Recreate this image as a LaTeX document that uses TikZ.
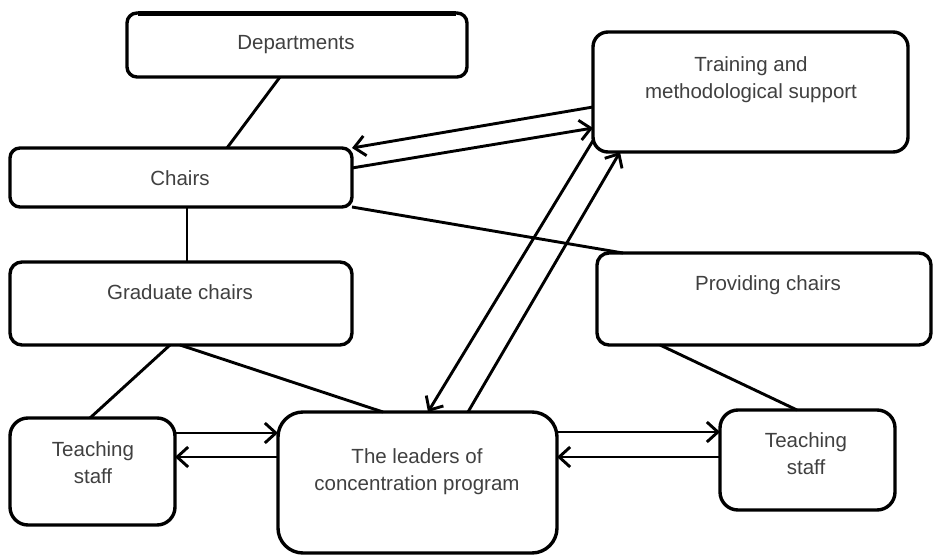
\documentclass[tikz,border=0pt]{standalone}
\usepackage{fontspec}
\setmainfont{Liberation Sans}
\usetikzlibrary{arrows.meta,calc}
\begin{document}
\begin{tikzpicture}[x=1pt,y=-1pt,
  box/.style={draw=black, line width=3.4pt, rounded corners=#1, inner sep=0pt, outer sep=0pt, fill=white},
  box/.default=12pt,
  lbl/.style={anchor=base, inner sep=0pt, font=\fontsize{20.5}{27}\selectfont, text=black!75},
  conn/.style={line width=2.9pt, draw=black},
  arr/.style={conn, -{Straight Barb[length=11pt,width=20pt]}}]
\fill[white] (0,0) rectangle (933,556);
\useasboundingbox (0,0) rectangle (933,556);
% boxes
\node[box=10pt, minimum width=340pt, minimum height=64pt] (dep) at (297,45) {};
\node[box=10pt, minimum width=342pt, minimum height=59pt] (chairs) at (181,177.5) {};
\node[box=15pt, minimum width=315pt, minimum height=120pt] (train) at (750.5,92) {};
\node[box=12pt, minimum width=342pt, minimum height=83pt] (grad) at (181,303.5) {};
\node[box=12pt, minimum width=334pt, minimum height=92pt] (prov) at (764,299) {};
\node[box=18pt, minimum width=165pt, minimum height=107pt] (tl) at (92.5,471.5) {};
\node[box=25pt, minimum width=279pt, minimum height=141pt] (lead) at (417.5,482.5) {};
\node[box=18pt, minimum width=175pt, minimum height=100pt] (tr) at (807.5,460) {};
% thick top edge of Departments
\draw[line width=5.5pt] ($(dep.north west)+(11,0.3)$) -- ($(dep.north east)+(-11,0.3)$);
% labels
\node[lbl] (depT) at (296,50) {Departments};
\node[lbl] (chT) at (180,185) {Chairs};
\node[lbl] (trT) at (751,72) {\begin{tabular}[t]{@{}c@{}}Training and\\methodological support\end{tabular}};
\node[lbl] (grT) at (180,299) {Graduate chairs};
\node[lbl] (prT) at (768,290) {Providing chairs};
\node[lbl] (tlT) at (93,456) {\begin{tabular}[t]{@{}c@{}}Teaching\\staff\end{tabular}};
\node[lbl] (leT) at (417,463) {\begin{tabular}[t]{@{}c@{}}The leaders of\\concentration program\end{tabular}};
\node[lbl] (trsT) at (806,447) {\begin{tabular}[t]{@{}c@{}}Teaching\\staff\end{tabular}};
% connectors
\draw[conn] ($(dep.south west)+(153,0)$) -- ($(chairs.north west)+(217,0)$);
\draw[conn] ($(chairs.south west)+(177,0)$) -- ($(grad.north west)+(177,0)$);
\draw[arr] ($(train.north west)+(0,75)$) -- (chairs.north east);
\draw[arr] ($(chairs.north east)+(0,20)$) -- ($(train.north west)+(0,96)$);
\draw[conn] (chairs.south east) -- ($(prov.north west)+(26,0)$);
\draw[arr] ($(train.south west)+(1,-13)$) -- ($(lead.north west)+(150,0)$);
\draw[arr] ($(lead.north west)+(190,0)$) -- ($(train.south west)+(27,0)$);
\draw[conn] ($(grad.south west)+(160,0)$) -- ($(tl.north west)+(80,0)$);
\draw[conn] ($(grad.south west)+(170,0)$) -- ($(lead.north west)+(105,0)$);
\draw[arr] ($(tl.north east)+(0,15)$) -- ($(lead.north west)+(0,21)$);
\draw[arr] ($(lead.north west)+(0,45)$) -- ($(tl.north east)+(0,39)$);
\draw[arr] ($(lead.north east)+(0,20)$) -- ($(tr.north west)+(0,22)$);
\draw[arr] ($(tr.north west)+(0,47)$) -- ($(lead.north east)+(0,45)$);
\draw[conn] ($(prov.south west)+(63,0)$) -- ($(tr.north west)+(77,0)$);
\end{tikzpicture}
\end{document}
